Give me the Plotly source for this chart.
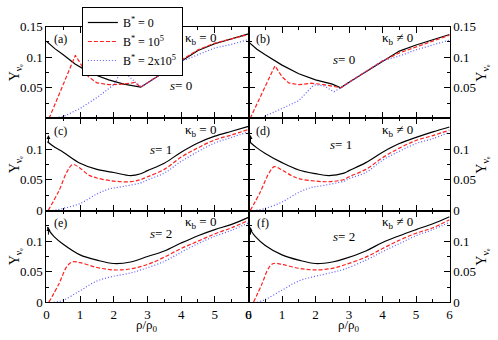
import plotly.graph_objects as go
from plotly.subplots import make_subplots

# panel (a): s=0, kappa_b=0
a_x0 = [0, 0.25, 0.5, 0.85, 1.25, 1.5, 1.85, 2.3, 2.8, 3.0, 3.5, 4.0, 4.5, 5.0, 5.5, 6.0]
a_y0 = [0.126, 0.114, 0.104, 0.089, 0.076, 0.070, 0.063, 0.056, 0.051, 0.058, 0.076, 0.094, 0.111, 0.122, 0.130, 0.138]
a_x1 = [0.08, 0.86, 1.05, 1.25, 1.5, 1.85, 2.3, 2.62, 2.8, 3.0, 3.5, 4.0, 4.5, 5.0, 5.5, 6.0]
a_y1 = [0, 0.103, 0.086, 0.068, 0.058, 0.055, 0.056, 0.0586, 0.051, 0.058, 0.076, 0.095, 0.112, 0.123, 0.130, 0.137]
a_x2 = [0.1, 0.5, 1.0, 1.5, 2.0, 2.25, 2.5, 2.8, 3.0, 3.5, 4.0, 4.5, 5.0, 5.5, 6.0]
a_y2 = [0, 0.003, 0.016, 0.034, 0.055, 0.079, 0.066, 0.052, 0.058, 0.075, 0.093, 0.104, 0.115, 0.121, 0.129]

# panel (b): s=0, kappa_b!=0
b_x0 = [0, 0.25, 0.5, 1.0, 1.5, 2.0, 2.5, 2.75, 3.0, 3.5, 4.0, 4.5, 5.0, 5.5, 6.0]
b_y0 = [0.125, 0.113, 0.104, 0.087, 0.073, 0.063, 0.056, 0.050, 0.059, 0.076, 0.094, 0.110, 0.120, 0.128, 0.137]
b_x1 = [0.05, 0.79, 1.0, 1.2, 1.5, 1.87, 2.25, 2.75, 3.0, 3.5, 4.0, 4.5, 5.0, 5.5, 6.0]
b_y1 = [0, 0.086, 0.068, 0.058, 0.055, 0.0575, 0.055, 0.050, 0.059, 0.076, 0.094, 0.107, 0.117, 0.126, 0.136]
b_x2 = [0.41, 0.5, 1.0, 1.5, 1.9, 2.0, 2.25, 2.55, 2.75, 3.0, 3.5, 4.0, 4.5, 5.0, 5.5, 6.0]
b_y2 = [0, 0.004, 0.016, 0.029, 0.052, 0.055, 0.053, 0.0435, 0.050, 0.059, 0.076, 0.094, 0.102, 0.112, 0.120, 0.128]

# panel (c): s=1, kappa_b=0
c_x0 = [0.03, 0.25, 0.5, 1.0, 1.5, 2.0, 2.5, 2.8, 3.0, 3.5, 4.0, 4.5, 5.0, 5.5, 6.0]
c_y0 = [0.112, 0.103, 0.095, 0.077, 0.067, 0.062, 0.057, 0.060, 0.065, 0.077, 0.095, 0.110, 0.121, 0.129, 0.137]
c_x1 = [0.05, 0.37, 0.61, 0.78, 1.0, 1.25, 1.5, 2.0, 2.5, 2.8, 3.0, 3.5, 4.0, 4.5, 5.0, 5.5, 6.0]
c_y1 = [0, 0.032, 0.063, 0.075, 0.069, 0.058, 0.053, 0.048, 0.047, 0.0505, 0.055, 0.067, 0.087, 0.102, 0.115, 0.123, 0.132]
c_x2 = [0.18, 0.5, 1.0, 1.5, 1.85, 2.25, 2.8, 3.0, 3.5, 4.0, 4.5, 5.0, 5.5, 6.0]
c_y2 = [0, 0.0036, 0.0115, 0.027, 0.035, 0.039, 0.045, 0.050, 0.061, 0.080, 0.096, 0.110, 0.119, 0.128]

# panel (d): s=1, kappa_b!=0
d_x0 = [0.03, 0.25, 0.5, 1.0, 1.5, 2.0, 2.4, 2.85, 3.0, 3.5, 4.0, 4.5, 5.0, 5.5, 6.0]
d_y0 = [0.112, 0.102, 0.093, 0.078, 0.066, 0.060, 0.057, 0.061, 0.065, 0.078, 0.095, 0.109, 0.119, 0.128, 0.136]
d_x1 = [0.05, 0.35, 0.6, 0.77, 1.0, 1.28, 1.5, 2.0, 2.4, 2.85, 3.0, 3.5, 4.0, 4.5, 5.0, 5.5, 6.0]
d_y1 = [0, 0.030, 0.060, 0.0714, 0.066, 0.057, 0.052, 0.048, 0.047, 0.0505, 0.055, 0.067, 0.086, 0.1016, 0.114, 0.122, 0.131]
d_x2 = [0.15, 0.5, 1.0, 1.5, 1.87, 2.25, 2.85, 3.0, 3.5, 4.0, 4.5, 5.0, 5.5, 6.0]
d_y2 = [0, 0.0036, 0.014, 0.0297, 0.0375, 0.041, 0.048, 0.052, 0.062, 0.0818, 0.0964, 0.109, 0.117, 0.1276]

# panel (e): s=2, kappa_b=0
e_x0 = [0.03, 0.1, 0.22, 0.5, 1.0, 1.5, 2.0, 2.5, 3.0, 3.5, 4.0, 4.5, 5.0, 5.5, 6.0]
e_y0 = [0.123, 0.116, 0.108, 0.095, 0.0776, 0.069, 0.0635, 0.066, 0.075, 0.084, 0.097, 0.109, 0.119, 0.1276, 0.139]
e_x1 = [0.07, 0.37, 0.6, 0.76, 1.0, 1.5, 2.0, 2.5, 3.0, 3.5, 4.0, 4.5, 5.0, 5.5, 6.0]
e_y1 = [0, 0.030, 0.058, 0.066, 0.065, 0.057, 0.053, 0.0547, 0.062, 0.074, 0.088, 0.100, 0.112, 0.122, 0.134]
e_x2 = [0.22, 0.5, 1.0, 1.5, 2.0, 2.5, 2.8, 3.5, 4.0, 4.5, 5.0, 5.5, 6.0]
e_y2 = [0, 0.0036, 0.019, 0.035, 0.0427, 0.048, 0.053, 0.067, 0.082, 0.096, 0.108, 0.118, 0.130]

# panel (f): s=2, kappa_b!=0
f_x0 = [0.01, 0.1, 0.2, 0.5, 1.0, 1.5, 2.0, 2.5, 2.85, 3.5, 4.0, 4.5, 5.0, 5.5, 6.0]
f_y0 = [0.123, 0.115, 0.108, 0.093, 0.0776, 0.069, 0.0635, 0.066, 0.071, 0.084, 0.098, 0.109, 0.119, 0.1286, 0.140]
f_x1 = [0.15, 0.4, 0.6, 0.74, 1.0, 1.5, 2.0, 2.5, 2.85, 3.5, 4.0, 4.5, 5.0, 5.5, 6.0]
f_y1 = [0, 0.030, 0.056, 0.0635, 0.062, 0.0557, 0.053, 0.0557, 0.061, 0.074, 0.088, 0.1016, 0.113, 0.122, 0.135]
f_x2 = [0.25, 0.5, 1.0, 1.5, 2.0, 2.5, 2.85, 3.5, 4.0, 4.5, 5.0, 5.5, 6.0]
f_y2 = [0, 0.0047, 0.020, 0.035, 0.0427, 0.049, 0.054, 0.069, 0.083, 0.096, 0.109, 0.119, 0.131]

series_names = ['B<sup>*</sup> = 0', 'B<sup>*</sup> = 10<sup>5</sup>', 'B<sup>*</sup> = 2x10<sup>5</sup>']
panel_tags = ['(a)', '(b)', '(c)', '(d)', '(e)', '(f)']
s_labels = ['<i>s</i>= 0', '<i>s</i>= 0', '<i>s</i>= 1', '<i>s</i>= 1', '<i>s</i>= 2', '<i>s</i>= 2']
kappa_labels = ['κ<sub>b</sub> = 0', 'κ<sub>b</sub> ≠ 0'] * 3

FONT = '"Liberation Serif", "Times New Roman", "DejaVu Serif", serif'
line_styles = [dict(color='black', width=1.2),
               dict(color='#ff2020', width=1.2, dash='4px,2px'),
               dict(color='#5a5aff', width=1.2, dash='1px,2px')]

panels = [
    [(a_x0, a_y0), (a_x1, a_y1), (a_x2, a_y2)],
    [(b_x0, b_y0), (b_x1, b_y1), (b_x2, b_y2)],
    [(c_x0, c_y0), (c_x1, c_y1), (c_x2, c_y2)],
    [(d_x0, d_y0), (d_x1, d_y1), (d_x2, d_y2)],
    [(e_x0, e_y0), (e_x1, e_y1), (e_x2, e_y2)],
    [(f_x0, f_y0), (f_x1, f_y1), (f_x2, f_y2)],
]

fig = make_subplots(rows=3, cols=2, horizontal_spacing=0, vertical_spacing=0)

for i, curves in enumerate(panels):
    row, col = i // 2 + 1, i % 2 + 1
    shape = 'linear' if i < 2 else 'spline'
    for j, (xs, ys) in enumerate(curves):
        fig.add_trace(go.Scatter(x=xs, y=ys, mode='lines', name=series_names[j],
                                 line=dict(line_styles[j], shape=shape),
                                 showlegend=(i == 0)),
                      row=row, col=col)

x_dom = [[0.0884, 0.5], [0.5, 0.9096]]
y_dom = [[0.6574, 0.9397], [0.3735, 0.6574], [0.0912, 0.3735]]
axis_common = dict(showline=True, linecolor='black', linewidth=1, mirror='allticks',
                   ticks='inside', ticklen=6, tickcolor='black', showgrid=False,
                   zeroline=False, tickfont=dict(family=FONT, size=13, color='black'))

for i in range(6):
    row, col = i // 2 + 1, i % 2 + 1
    fig.update_xaxes(axis_common, range=[0, 6], tickvals=[0, 1, 2, 3, 4, 5, 6],
                     minor=dict(dtick=0.5, tick0=0, ticks='inside', ticklen=3, tickcolor='black'),
                     showticklabels=(row == 3), domain=x_dom[col - 1], row=row, col=col)
    ytext = ['', '0.05', '0.1', '0.15'] if row == 1 else ['0', '0.05', '0.1', '']
    fig.update_yaxes(axis_common, range=[0, 0.15], tickvals=[0, 0.05, 0.1, 0.15], ticktext=ytext,
                     minor=dict(dtick=0.025, tick0=0, ticks='inside', ticklen=3, tickcolor='black'),
                     side='left' if col == 1 else 'right', domain=y_dom[row - 1], row=row, col=col)

annotations = []
for i in range(6):
    row, col = i // 2 + 1, i % 2 + 1
    n = '' if i == 0 else str(i + 1)
    xr, yr = 'x' + n, 'y' + n
    annotations.append(dict(x=0.42, y=0.13, xref=xr, yref=yr, text=panel_tags[i], showarrow=False,
                            font=dict(family=FONT, size=12, color='black')))
    kx = 4.57 if col == 1 else 4.46
    annotations.append(dict(x=kx, y=0.131, xref=xr, yref=yr, text=kappa_labels[i], showarrow=False,
                            font=dict(family=FONT, size=13, color='black')))
    s_pos = [(4.0, 0.054), (2.85, 0.097), (3.4, 0.1), (2.76, 0.108), (3.4, 0.112), (2.85, 0.107)][i]
    annotations.append(dict(x=s_pos[0], y=s_pos[1], xref=xr, yref=yr, text=s_labels[i], showarrow=False,
                            font=dict(family=FONT, size=13, color='black')))
    if i >= 2:
        annotations.append(dict(x=0.06, y=0.123, xref=xr, yref=yr, ax=0, ay=9, text='', showarrow=True,
                                arrowhead=2, arrowsize=0.8, arrowwidth=1, arrowcolor='black'))

# axis titles
ytitle = 'Y<sub>νₑ</sub>'
for row in range(3):
    yc = sum(y_dom[row]) / 2
    for xp in (13 / 498, 486 / 498):
        annotations.append(dict(x=xp, y=yc, xref='paper', yref='paper', text=ytitle, textangle=-90,
                                xanchor='center', yanchor='middle', showarrow=False,
                                font=dict(family=FONT, size=14, color='black')))
for col in range(2):
    xc = sum(x_dom[col]) / 2
    annotations.append(dict(x=xc, y=1 - 333 / 340, xref='paper', yref='paper', text='ρ/ρ<sub>0</sub>',
                            xanchor='center', yanchor='middle', showarrow=False, borderpad=0,
                            font=dict(family=FONT, size=13, color='black')))

fig.update_layout(
    width=498, height=340,
    margin=dict(l=0, r=0, t=0, b=0),
    paper_bgcolor='white', plot_bgcolor='white',
    font=dict(family=FONT, size=12, color='black'),
    annotations=annotations,
    legend=dict(x=80 / 498, y=1.0, xanchor='left', yanchor='top', bgcolor='white',
                bordercolor='black', borderwidth=1, itemwidth=30, tracegroupgap=0,
                font=dict(family=FONT, size=12, color='black')),
)

# drop the browser's default body margin so the figure sits at the window origin
fig.write_html("out.html", config={'displayModeBar': False},
               post_script="document.body.style.margin='0px';")
